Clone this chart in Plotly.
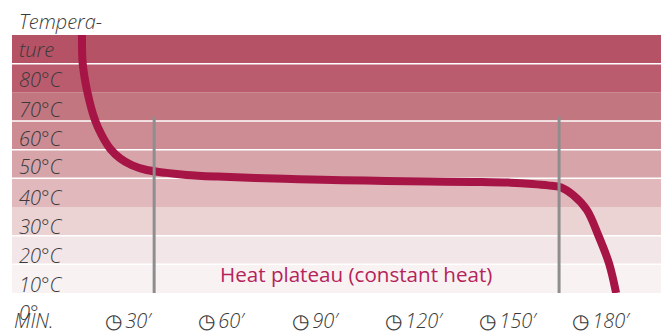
import plotly.graph_objects as go

band_floor = [0, 10, 20, 30, 40, 50, 60, 70, 80]
band_colors = ["#F8F2F3", "#F3E6E8", "#EBD3D3", "#E1B8BC", "#D6A4A9",
               "#CD8C94", "#C2767F", "#BA5C6E", "#B55266"]
white_rule_temps = [10, 20, 40, 50, 60, 80]
temp_ticks = [0, 10, 20, 30, 40, 50, 60, 70, 80]
temp_labels = ["0°", "10°C", "20°C", "30°C", "40°C", "50°C", "60°C", "70°C", "80°C"]
label_nudge = [0, -1, -1, 0, 0, 2, 2, 2, 3]
time_ticks = [30, 60, 90, 120, 150, 180]
time_labels = ["30′", "60′", "90′", "120′", "150′", "180′"]
curve_min = [22.46, 22.68, 24.16, 26.63, 28.78, 31.67, 34.65, 38.4, 43.2, 49.6, 56, 66, 78, 92, 106, 120, 134, 148, 160, 167, 172, 176, 180.0, 184.4, 188.1, 191.6, 193.8]
curve_temp = [90, 80.1, 70.2, 60.3, 55.1, 50.1, 47.0, 44.6, 42.9, 41.9, 41.2, 40.6, 40.1, 39.7, 39.35, 39.1, 38.9, 38.75, 38.5, 38.05, 37.55, 36.9, 34.2, 29.0, 20.1, 10.1, 0]
phase_min = [45.6, 175.5]
phase_top = 61.5

fig = go.Figure()
for f, c in zip(band_floor, band_colors):
    fig.add_shape(type="rect", xref="paper", x0=0, x1=1, yref="y", y0=f, y1=f + 10,
                  fillcolor=c, line_width=0, layer="below")
for t in white_rule_temps:
    fig.add_shape(type="line", xref="paper", x0=0, x1=1, yref="y", y0=t, y1=t,
                  line=dict(color="white", width=1.5), layer="below")
fig.add_trace(go.Scatter(x=curve_min, y=curve_temp, mode="lines",
                         line=dict(color="#A61545", width=8, shape="spline", smoothing=1)))
for m in phase_min:
    fig.add_trace(go.Scatter(x=[m, m], y=[0, phase_top], mode="lines",
                             line=dict(color="#8E8E8E", width=3), hoverinfo="skip"))

base = dict(family="Open Sans", size=20, color="#3A3A3A", style="italic", weight=300)
ann = []
for t, l, n in zip(temp_ticks, temp_labels, label_nudge):
    ann.append(dict(xref="paper", x=0, xanchor="left", xshift=5, yref="y", y=t,
                    yanchor="middle", yshift=-19 + n, text=l, showarrow=False, font=base))
ann.append(dict(xref="paper", x=0, xanchor="left", xshift=5, yref="y", y=90,
                yanchor="middle", yshift=-14, text="ture", showarrow=False, font=base))
ann.append(dict(xref="paper", x=0, xanchor="left", xshift=5, yref="y", y=90,
                yanchor="middle", yshift=14, text="Tempera-", showarrow=False, font=base))
ann.append(dict(xref="paper", x=0, xanchor="left", yref="paper", y=0, yanchor="middle",
                yshift=-27, text="MIN.", showarrow=False, font=base))
for m, l in zip(time_ticks, time_labels):
    ann.append(dict(xref="x", x=m, xanchor="left", xshift=-3, yref="paper", y=0, yanchor="middle",
                    yshift=-27, showarrow=False, font=base,
                    text="<span style='font-family:DejaVu Sans;font-style:normal;font-size:20px'>◷</span>\u2009" + l))
ann.append(dict(xref="x", x=110.5, xanchor="center", yref="y", y=6.6, yanchor="middle",
                text="Heat plateau (constant heat)", showarrow=False,
                font=dict(family="Open Sans", size=20.6, color="#B5235A")))

fig.update_layout(
    width=661, height=331, margin=dict(l=12, r=0, t=35, b=38),
    paper_bgcolor="white", plot_bgcolor="white", showlegend=False, annotations=ann,
    xaxis=dict(range=[0, 208.2], visible=False),
    yaxis=dict(range=[0, 90], visible=False),
)
fig.write_html("out.html", config={"displayModeBar": False},
               post_script="document.body.style.margin='0';document.documentElement.style.overflow='hidden';")
